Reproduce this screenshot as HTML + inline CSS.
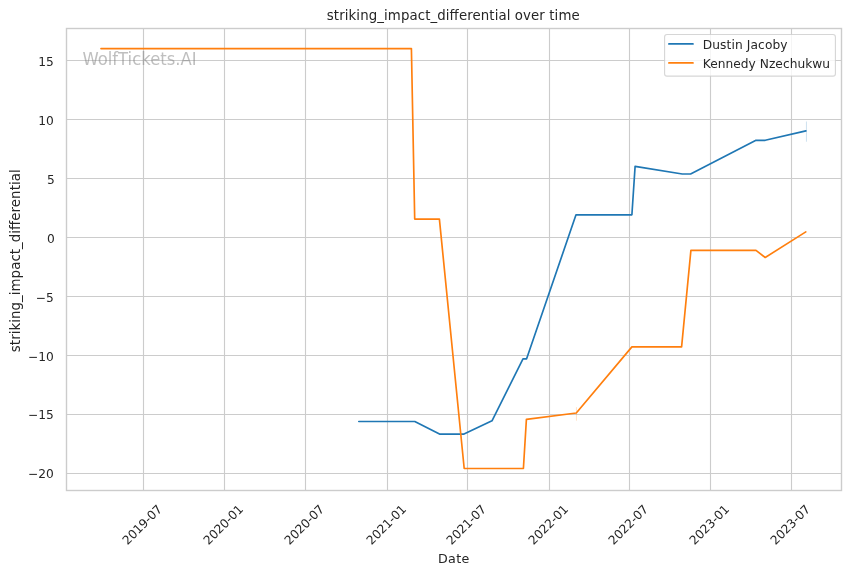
<!DOCTYPE html>
<html lang="en"><head><meta charset="utf-8"><title>striking_impact_differential over time</title>
<style>
html,body{margin:0;padding:0;background:#fff;}
body{width:850px;height:575px;overflow:hidden;}
svg{display:block;will-change:transform;}
text{font-family:"DejaVu Sans","Liberation Sans",sans-serif;fill:#262626;}
.tk{font-size:12.22px;}
.lb{font-size:13.33px;}
.g{stroke:#cccccc;stroke-width:1.11;fill:none;}
.sp{stroke:#cccccc;stroke-width:1.39;fill:none;stroke-linecap:square;}
.ln{fill:none;stroke-width:1.67;stroke-linejoin:round;stroke-linecap:round;}
</style></head><body>
<svg width="850" height="575" viewBox="0 0 850 575">
<rect x="0" y="0" width="850" height="575" fill="#ffffff"/>

<g class="g">
<line x1="143.5" y1="28.5" x2="143.5" y2="490.5"/>
<line x1="224.5" y1="28.5" x2="224.5" y2="490.5"/>
<line x1="305.5" y1="28.5" x2="305.5" y2="490.5"/>
<line x1="387.5" y1="28.5" x2="387.5" y2="490.5"/>
<line x1="467.5" y1="28.5" x2="467.5" y2="490.5"/>
<line x1="549.5" y1="28.5" x2="549.5" y2="490.5"/>
<line x1="629.5" y1="28.5" x2="629.5" y2="490.5"/>
<line x1="710.5" y1="28.5" x2="710.5" y2="490.5"/>
<line x1="791.5" y1="28.5" x2="791.5" y2="490.5"/>
<line x1="66.5" y1="60.5" x2="841.5" y2="60.5"/>
<line x1="66.5" y1="119.5" x2="841.5" y2="119.5"/>
<line x1="66.5" y1="178.5" x2="841.5" y2="178.5"/>
<line x1="66.5" y1="237.5" x2="841.5" y2="237.5"/>
<line x1="66.5" y1="296.5" x2="841.5" y2="296.5"/>
<line x1="66.5" y1="355.5" x2="841.5" y2="355.5"/>
<line x1="66.5" y1="414.5" x2="841.5" y2="414.5"/>
<line x1="66.5" y1="473.5" x2="841.5" y2="473.5"/>
</g>
<line x1="806.45" y1="121.5" x2="806.45" y2="141.7" stroke="#1f77b4" stroke-opacity="0.22" stroke-width="1"/>
<line x1="576.45" y1="407.2" x2="576.45" y2="420.7" stroke="#ff7f0e" stroke-opacity="0.25" stroke-width="0.9"/>
<polyline class="ln" stroke="#1f77b4" points="358.8,421.5 414.8,421.5 439.5,434.1 464.0,434.1 492.0,420.8 523.0,358.8 526.6,358.8 576.0,214.8 631.9,214.8 635.1,166.4 682.3,174.0 690.6,174.0 756.0,140.3 765.2,140.3 805.9,130.9"/>
<polyline class="ln" stroke="#ff7f0e" points="101.0,48.6 411.4,48.6 414.7,219.1 439.4,219.1 464.2,468.5 523.4,468.5 526.4,419.4 576.3,413.0 631.9,346.9 681.6,346.9 690.9,250.4 756.0,250.4 765.2,257.5 805.8,231.9"/>
<rect class="sp" x="66.5" y="28.5" width="775.0" height="462.0"/>
<text x="82.4" y="64.75" font-size="17.7px" textLength="114.2" lengthAdjust="spacingAndGlyphs" style="fill:#808080;fill-opacity:0.5">WolfTickets.AI</text>
<text class="tk" x="53.8" y="66.0" text-anchor="end">15</text>
<text class="tk" x="53.8" y="125.0" text-anchor="end">10</text>
<text class="tk" x="54.9" y="184.1" text-anchor="end">5</text>
<text class="tk" x="54.9" y="243.1" text-anchor="end">0</text>
<text class="tk" x="53.8" y="302.1" text-anchor="end">−5</text>
<text class="tk" x="53.8" y="361.1" text-anchor="end">−10</text>
<text class="tk" x="53.8" y="419.1" text-anchor="end">−15</text>
<text class="tk" x="53.8" y="478.1" text-anchor="end">−20</text>
<text class="tk" transform="translate(127.50,545.40) rotate(-45)" textLength="50.2" lengthAdjust="spacing">2019-07</text>
<text class="tk" transform="translate(208.50,545.40) rotate(-45)" textLength="50.2" lengthAdjust="spacing">2020-01</text>
<text class="tk" transform="translate(289.50,545.40) rotate(-45)" textLength="50.2" lengthAdjust="spacing">2020-07</text>
<text class="tk" transform="translate(371.50,545.40) rotate(-45)" textLength="50.2" lengthAdjust="spacing">2021-01</text>
<text class="tk" transform="translate(451.50,545.40) rotate(-45)" textLength="50.2" lengthAdjust="spacing">2021-07</text>
<text class="tk" transform="translate(533.50,545.40) rotate(-45)" textLength="50.2" lengthAdjust="spacing">2022-01</text>
<text class="tk" transform="translate(613.50,545.40) rotate(-45)" textLength="50.2" lengthAdjust="spacing">2022-07</text>
<text class="tk" transform="translate(694.50,545.40) rotate(-45)" textLength="50.2" lengthAdjust="spacing">2023-01</text>
<text class="tk" transform="translate(775.50,545.40) rotate(-45)" textLength="50.2" lengthAdjust="spacing">2023-07</text>
<text class="lb" x="453.25" y="20.2" text-anchor="middle" textLength="252.9" lengthAdjust="spacing">striking_impact_differential over time</text>
<text x="453.65" y="563.1" text-anchor="middle" font-size="12.7px" textLength="31.3" lengthAdjust="spacing">Date</text>
<text class="lb" transform="translate(20.25,260.75) rotate(-90)" text-anchor="middle" textLength="182.8" lengthAdjust="spacing">striking_impact_differential</text>
<rect x="664.6" y="34.5" width="170.8" height="41.6" rx="2.4" ry="2.4" fill="#ffffff" fill-opacity="0.8" stroke="#cccccc" stroke-opacity="0.8" stroke-width="1.11"/>
<line class="ln" stroke="#1f77b4" x1="668.9" y1="43.9" x2="693.0" y2="43.9"/>
<line class="ln" stroke="#ff7f0e" x1="668.9" y1="62.9" x2="693.0" y2="62.9"/>
<text class="tk" x="702.75" y="48.9" textLength="84.8" lengthAdjust="spacing">Dustin Jacoby</text>
<text class="tk" x="702.75" y="67.9" textLength="127.3" lengthAdjust="spacing">Kennedy Nzechukwu</text>
</svg></body></html>
